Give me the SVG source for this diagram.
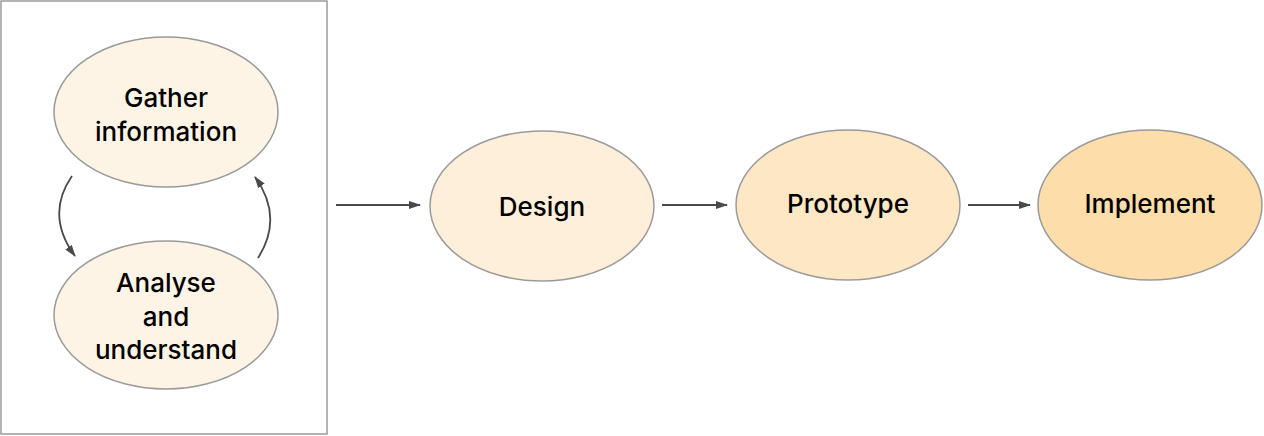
<svg xmlns="http://www.w3.org/2000/svg" width="1264" height="436" viewBox="0 0 1264 436">
<style>
.node ellipse{stroke:#9a9a9a;stroke-width:1.5}
.lbl{font-family:Inter,"Liberation Sans",Arial,sans-serif;font-size:26px;font-weight:500;fill:#000;text-anchor:middle}
.conn{fill:none;stroke:#4a4a4a;stroke-width:1.8}
</style>
<defs>
<marker id="ah" viewBox="0 0 12 10" refX="11" refY="5" markerWidth="12" markerHeight="10" markerUnits="userSpaceOnUse" orient="auto">
<path d="M0,1 L12,5 L0,9 Z" fill="#4a4a4a"/>
</marker>
</defs>
<rect width="1264" height="436" fill="#fff"/>
<rect id="frame" x="1" y="1" width="326" height="433" fill="#fff" stroke="#9a9a9a" stroke-width="1.5"/>
<g id="gather" class="node">
<ellipse cx="166" cy="112" rx="112" ry="75" fill="#fdf4e6"/>
<text class="lbl" x="166" y="107">Gather</text>
<text class="lbl" x="166" y="141">information</text>
</g>
<g id="analyse" class="node">
<ellipse cx="166" cy="315" rx="112" ry="74" fill="#fdf4e6"/>
<text class="lbl" x="166" y="292">Analyse</text>
<text class="lbl" x="166" y="326">and</text>
<text class="lbl" x="166" y="359">understand</text>
</g>
<g id="design" class="node">
<ellipse cx="542" cy="206" rx="112" ry="75" fill="#feefdb"/>
<text class="lbl" x="542" y="216">Design</text>
</g>
<g id="prototype" class="node">
<ellipse cx="848" cy="205" rx="112" ry="75" fill="#fde7c4"/>
<text class="lbl" x="848" y="213">Prototype</text>
</g>
<g id="implement" class="node">
<ellipse cx="1150" cy="205" rx="112" ry="75" fill="#fdddaa"/>
<text class="lbl" x="1150" y="213">Implement</text>
</g>
<g id="connectors">
<path class="conn" d="M72,176 Q45,215 75,256" marker-end="url(#ah)"/>
<path class="conn" d="M258,258 Q284,217 255,177" marker-end="url(#ah)"/>
<path class="conn" d="M336,205 L420,205" marker-end="url(#ah)"/>
<path class="conn" d="M662,205 L727,205" marker-end="url(#ah)"/>
<path class="conn" d="M968,205 L1030,205" marker-end="url(#ah)"/>
</g>
</svg>
